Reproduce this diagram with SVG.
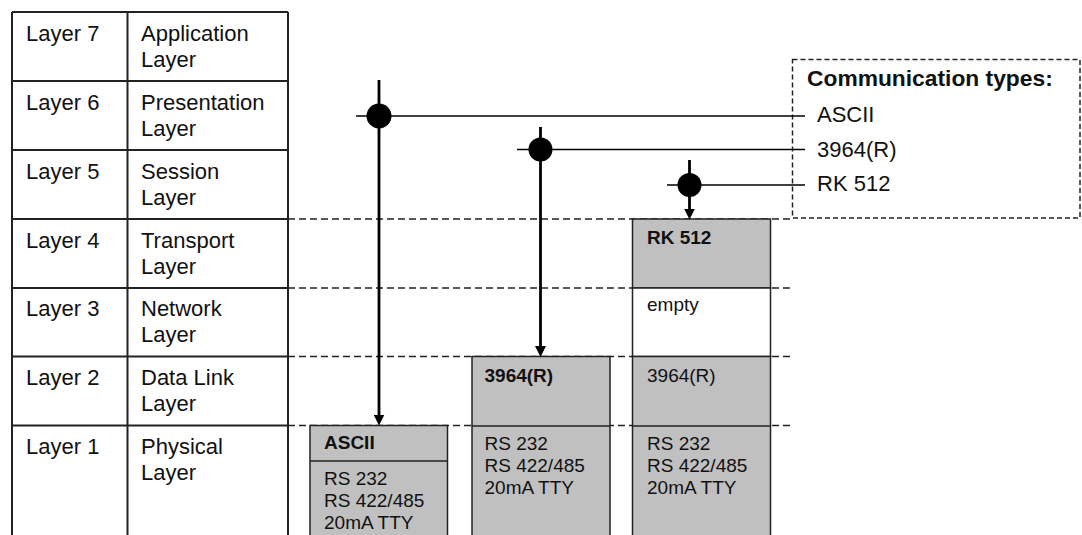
<svg xmlns="http://www.w3.org/2000/svg" width="1082" height="535" viewBox="0 0 1082 535">
<defs>
<style>
text{font-family:"Liberation Sans",Arial,sans-serif;fill:#111}
.lbl{font-size:22px}
.box{font-size:19px}
.b{font-weight:bold}
.grid{stroke:#222;stroke-width:2;fill:none}
.dash{stroke:#222;stroke-width:1.5;stroke-dasharray:7 4;fill:none}
.gbox{fill:#c0c0c0;stroke:#222;stroke-width:1.5}
.wbox{fill:#fff;stroke:#222;stroke-width:1.5}
.vline{stroke:#000;stroke-width:2.8;fill:none}
.hline{stroke:#000;stroke-width:1.5;fill:none}
</style>
<marker id="arr" viewBox="0 0 10 10" refX="5" refY="5" markerWidth="11" markerHeight="11" markerUnits="userSpaceOnUse" orient="auto">
<path d="M0,0 L10,5 L0,10 z" fill="#000"/>
</marker>
</defs>
<rect width="1082" height="535" fill="#fff"/>

<g id="layer-lines">
<line class="dash" x1="288" y1="219" x2="790" y2="219"/>
<line class="dash" x1="288" y1="288" x2="790" y2="288"/>
<line class="dash" x1="288" y1="356.5" x2="790" y2="356.5"/>
<line class="dash" x1="288" y1="425.5" x2="790" y2="425.5"/>
</g>

<g id="osi-table">
<path class="grid" d="M12,12 H288 M12,81 H288 M12,150 H288 M12,219 H288 M12,288 H288 M12,356.5 H288 M12,425.5 H288 M12,12 V535 M127.5,12 V535 M288,12 V535"/>
<text class="lbl" x="26" y="40.5">Layer 7</text>
<text class="lbl" x="141" y="40.5">Application</text>
<text class="lbl" x="141" y="66.5">Layer</text>
<text class="lbl" x="26" y="109.5">Layer 6</text>
<text class="lbl" x="141" y="109.5">Presentation</text>
<text class="lbl" x="141" y="135.5">Layer</text>
<text class="lbl" x="26" y="178.5">Layer 5</text>
<text class="lbl" x="141" y="178.5">Session</text>
<text class="lbl" x="141" y="204.5">Layer</text>
<text class="lbl" x="26" y="247.5">Layer 4</text>
<text class="lbl" x="141" y="247.5">Transport</text>
<text class="lbl" x="141" y="273.5">Layer</text>
<text class="lbl" x="26" y="316">Layer 3</text>
<text class="lbl" x="141" y="316">Network</text>
<text class="lbl" x="141" y="342">Layer</text>
<text class="lbl" x="26" y="385">Layer 2</text>
<text class="lbl" x="141" y="385">Data Link</text>
<text class="lbl" x="141" y="411">Layer</text>
<text class="lbl" x="26" y="453.5">Layer 1</text>
<text class="lbl" x="141" y="453.5">Physical</text>
<text class="lbl" x="141" y="479.5">Layer</text>
</g>

<g id="legend">
<rect x="792.5" y="59.5" width="287.5" height="158.5" fill="none" stroke="#222" stroke-width="1.5" stroke-dasharray="5 3"/>
<text class="b" x="807" y="86" font-size="22.8">Communication types:</text>
<text class="lbl" x="817" y="122">ASCII</text>
<text class="lbl" x="817" y="157">3964(R)</text>
<text class="lbl" x="817" y="191">RK 512</text>
</g>

<g id="box-ascii">
<rect class="gbox" x="310" y="425.5" width="137.5" height="115"/>
<line x1="310" y1="461" x2="447.5" y2="461" stroke="#222" stroke-width="1.5"/>
<text class="box b" x="324" y="449">ASCII</text>
<text class="box" x="324" y="485">RS 232</text>
<text class="box" x="324" y="507">RS 422/485</text>
<text class="box" x="324" y="529">20mA TTY</text>
</g>

<g id="box-3964">
<rect class="gbox" x="472" y="356.5" width="138" height="184"/>
<line x1="472" y1="426" x2="610" y2="426" stroke="#222" stroke-width="1.5"/>
<text class="box b" x="484.5" y="382">3964(R)</text>
<text class="box" x="484.5" y="449.5">RS 232</text>
<text class="box" x="484.5" y="471.5">RS 422/485</text>
<text class="box" x="484.5" y="493.5">20mA TTY</text>
</g>

<g id="box-rk512">
<rect class="gbox" x="632.5" y="219" width="138" height="69"/>
<rect class="wbox" x="632.5" y="288" width="138" height="68.5"/>
<rect class="gbox" x="632.5" y="356.5" width="138" height="184"/>
<line x1="632.5" y1="426" x2="770.5" y2="426" stroke="#222" stroke-width="1.5"/>
<text class="box b" x="647" y="244">RK 512</text>
<text class="box" x="647" y="311">empty</text>
<text class="box" x="647" y="382">3964(R)</text>
<text class="box" x="647" y="449.5">RS 232</text>
<text class="box" x="647" y="471.5">RS 422/485</text>
<text class="box" x="647" y="493.5">20mA TTY</text>
</g>

<g id="connectors">
<line class="hline" x1="356" y1="116" x2="805" y2="116"/>
<line class="vline" x1="379" y1="80" x2="379" y2="420" marker-end="url(#arr)"/>
<circle cx="379" cy="116" r="12.5" fill="#000"/>
<line class="hline" x1="517" y1="149.5" x2="805" y2="149.5"/>
<line class="vline" x1="540.5" y1="127" x2="540.5" y2="351.5" marker-end="url(#arr)"/>
<circle cx="540.5" cy="149.5" r="12" fill="#000"/>
<line class="hline" x1="667" y1="185" x2="805" y2="185"/>
<line class="vline" x1="689.5" y1="160" x2="689.5" y2="214" marker-end="url(#arr)"/>
<circle cx="689.5" cy="185" r="12" fill="#000"/>
</g>
</svg>
